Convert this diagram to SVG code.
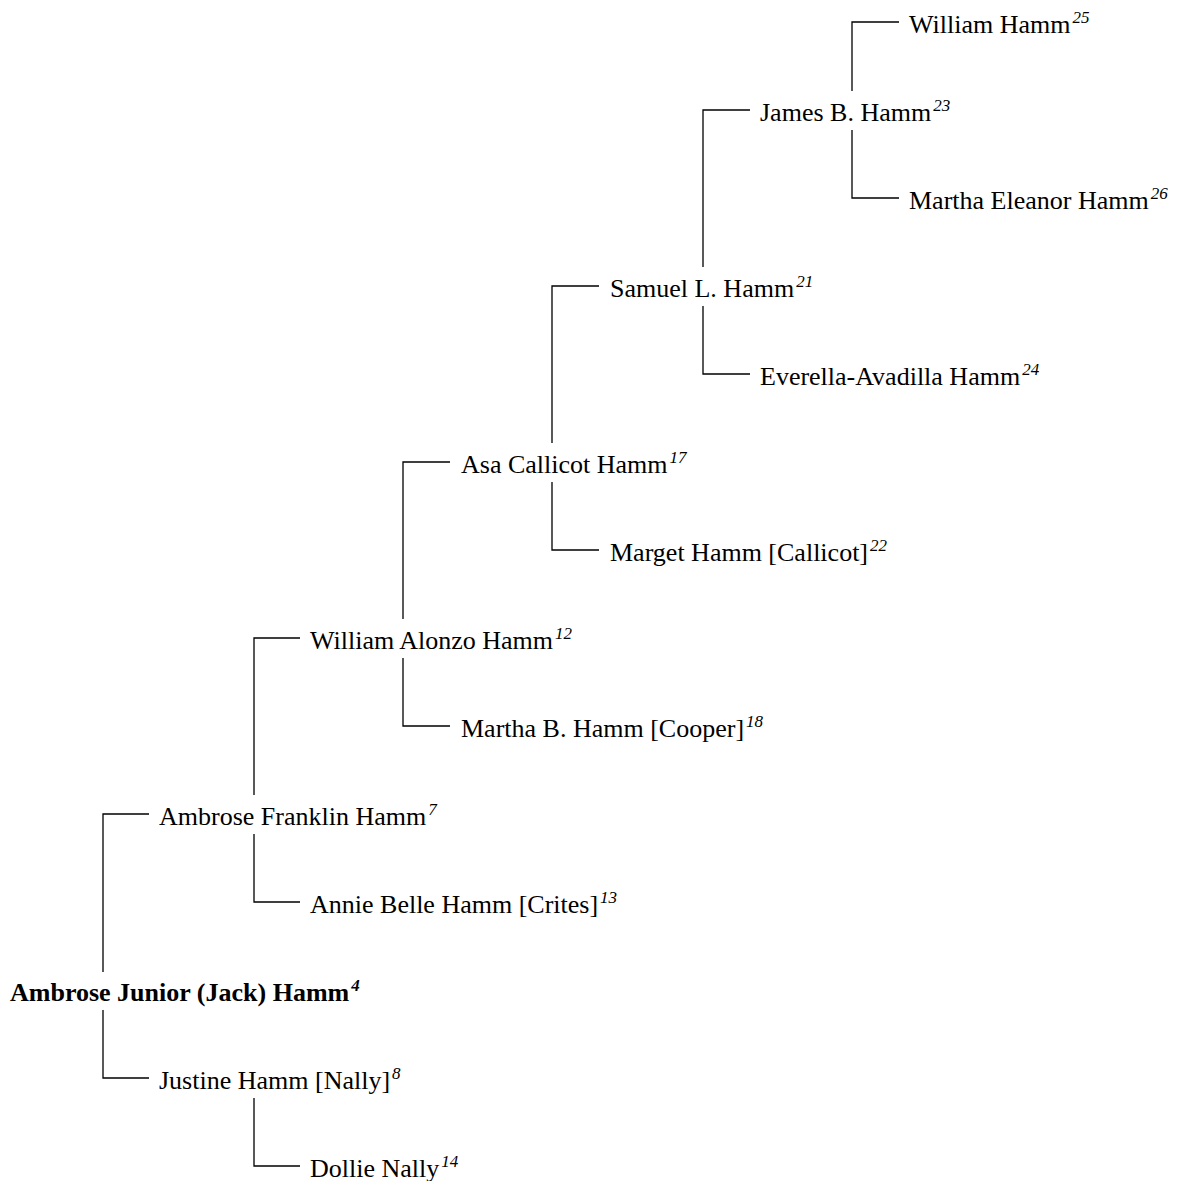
<svg xmlns="http://www.w3.org/2000/svg" width="1179" height="1181" viewBox="0 0 1179 1181">
<style>
text{font-family:"Liberation Serif","Times New Roman",serif;font-size:26px;fill:#000}
.b{font-weight:bold}
.s{font-size:17px;font-style:italic}
#connectors path{fill:none;stroke:#000;stroke-width:1.3}
</style>
<rect width="1179" height="1181" fill="#fff"/>
<g id="connectors">
<path d="M103,972 V814 H149"/>
<path d="M103,1010 V1078 H149"/>
<path d="M254,795 V638 H300"/>
<path d="M254,834 V902 H300"/>
<path d="M254,1098 V1166 H300"/>
<path d="M403,619 V462 H450"/>
<path d="M403,658 V726 H450"/>
<path d="M552,443 V286 H599"/>
<path d="M552,482 V550 H599"/>
<path d="M703,267 V110 H750"/>
<path d="M703,306 V374 H750"/>
<path d="M852,91 V22 H899"/>
<path d="M852,130 V198 H899"/>
</g>
<g id="n4"><text class="b" x="10" y="1001">Ambrose Junior (Jack) Hamm<tspan class="s" dx="2" dy="-10">4</tspan></text></g>
<g id="n7"><text x="159" y="825">Ambrose Franklin Hamm<tspan class="s" dx="2" dy="-10">7</tspan></text></g>
<g id="n8"><text x="159" y="1089">Justine Hamm [Nally]<tspan class="s" dx="2" dy="-10">8</tspan></text></g>
<g id="n12"><text x="310" y="649">William Alonzo Hamm<tspan class="s" dx="2" dy="-10">12</tspan></text></g>
<g id="n13"><text x="310" y="913">Annie Belle Hamm [Crites]<tspan class="s" dx="2" dy="-10">13</tspan></text></g>
<g id="n14"><text x="310" y="1177">Dollie Nally<tspan class="s" dx="2" dy="-10">14</tspan></text></g>
<g id="n17"><text x="461" y="473">Asa Callicot Hamm<tspan class="s" dx="2" dy="-10">17</tspan></text></g>
<g id="n18"><text x="461" y="737">Martha B. Hamm [Cooper]<tspan class="s" dx="2" dy="-10">18</tspan></text></g>
<g id="n21"><text x="610" y="297">Samuel L. Hamm<tspan class="s" dx="2" dy="-10">21</tspan></text></g>
<g id="n22"><text x="610" y="561">Marget Hamm [Callicot]<tspan class="s" dx="2" dy="-10">22</tspan></text></g>
<g id="n23"><text x="760" y="121">James B. Hamm<tspan class="s" dx="2" dy="-10">23</tspan></text></g>
<g id="n24"><text x="760" y="385">Everella-Avadilla Hamm<tspan class="s" dx="2" dy="-10">24</tspan></text></g>
<g id="n25"><text x="909" y="33">William Hamm<tspan class="s" dx="2" dy="-10">25</tspan></text></g>
<g id="n26"><text x="909" y="209">Martha Eleanor Hamm<tspan class="s" dx="2" dy="-10">26</tspan></text></g>
</svg>
